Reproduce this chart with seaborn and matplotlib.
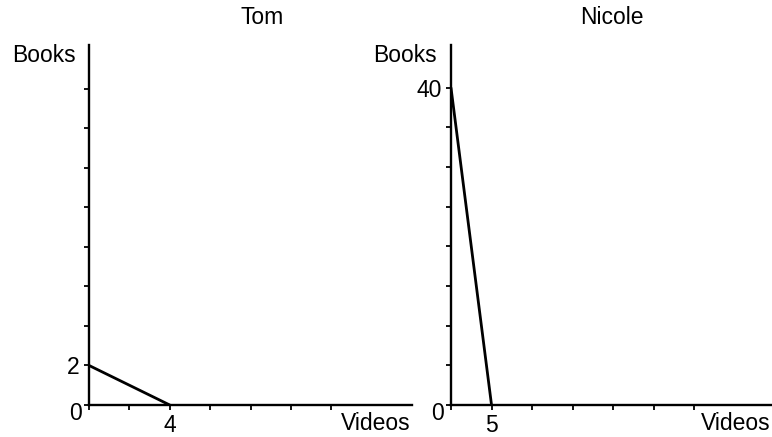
import matplotlib
matplotlib.use("Agg")
import matplotlib.pyplot as plt
import seaborn as sns
import pandas as pd

# Data
tom_videos = [0, 4]
tom_books = [2, 0]
nicole_videos = [0, 5]
nicole_books = [40, 0]

titles = ["Tom", "Nicole"]
x_label = "Videos"
y_label = "Books"

tom_xticks = [0, 2, 4, 6, 8, 10, 12]
tom_yticks = [0, 2, 4, 6, 8, 10, 12, 14, 16]
nicole_xticks = [0, 5, 10, 15, 20, 25, 30]
nicole_yticks = [0, 5, 10, 15, 20, 25, 30, 35, 40]

sns.set_theme(style="white")
plt.rcParams['font.family'] = ['Liberation Sans', 'DejaVu Sans']

W, H = 772, 437
fig = plt.figure(figsize=(W / 100, H / 100), dpi=100)

def px_axes(x0, y0, x1, y1):
    return fig.add_axes([x0 / W, 1 - y1 / H, (x1 - x0) / W, (y1 - y0) / H])

ax1 = px_axes(89, 45, 412, 405)
ax2 = px_axes(451, 45, 772, 405)

df_tom = pd.DataFrame({"Videos": tom_videos, "Books": tom_books})
df_nic = pd.DataFrame({"Videos": nicole_videos, "Books": nicole_books})

sns.lineplot(data=df_tom, x="Videos", y="Books", ax=ax1, color="black", linewidth=2)
sns.lineplot(data=df_nic, x="Videos", y="Books", ax=ax2, color="black", linewidth=2)

FS = 16.5

def style(ax, xlim, ylim, xticks, yticks, xlab_val, ylab_val):
    ax.set_xlim(*xlim)
    ax.set_ylim(*ylim)
    for s in ["top", "right"]:
        ax.spines[s].set_visible(False)
    for s in ["left", "bottom"]:
        ax.spines[s].set_color("black")
        ax.spines[s].set_linewidth(1.7)
    ax.set_xticks(xticks)
    ax.set_yticks(yticks)
    ax.set_xticklabels([str(v) if v == xlab_val else "" for v in xticks])
    ax.set_yticklabels([str(v) if v == ylab_val else "" for v in yticks])
    ax.tick_params(axis="both", which="both", direction="out", length=3.5,
                   width=1.3, color="black", labelsize=FS, labelcolor="black",
                   bottom=True, left=True)
    ax.tick_params(axis="x", pad=3)
    ax.tick_params(axis="y", pad=3)
    ax.set_xlabel("")
    ax.set_ylabel("")
    ax.patch.set_alpha(0)

style(ax1, (0, 16), (0, 18.2), tom_xticks, tom_yticks, 4, 2)
style(ax2, (0, 39.6), (0, 45.4), nicole_xticks, nicole_yticks, 5, 40)

def ftext(x, y, s, ha="center", va="center"):
    fig.text(x / W, 1 - y / H, s, ha=ha, va=va, fontsize=FS, color="black")

ftext(262, 18, titles[0])
ftext(612, 18, titles[1])
ftext(76, 55, y_label, ha="right")
ftext(437, 55, y_label, ha="right")
ftext(411, 424, x_label, ha="right")
ftext(771, 424, x_label, ha="right")
ftext(76, 413, "0")
ftext(437, 413, "0")

fig.savefig("out.png", dpi=100, facecolor="white")
